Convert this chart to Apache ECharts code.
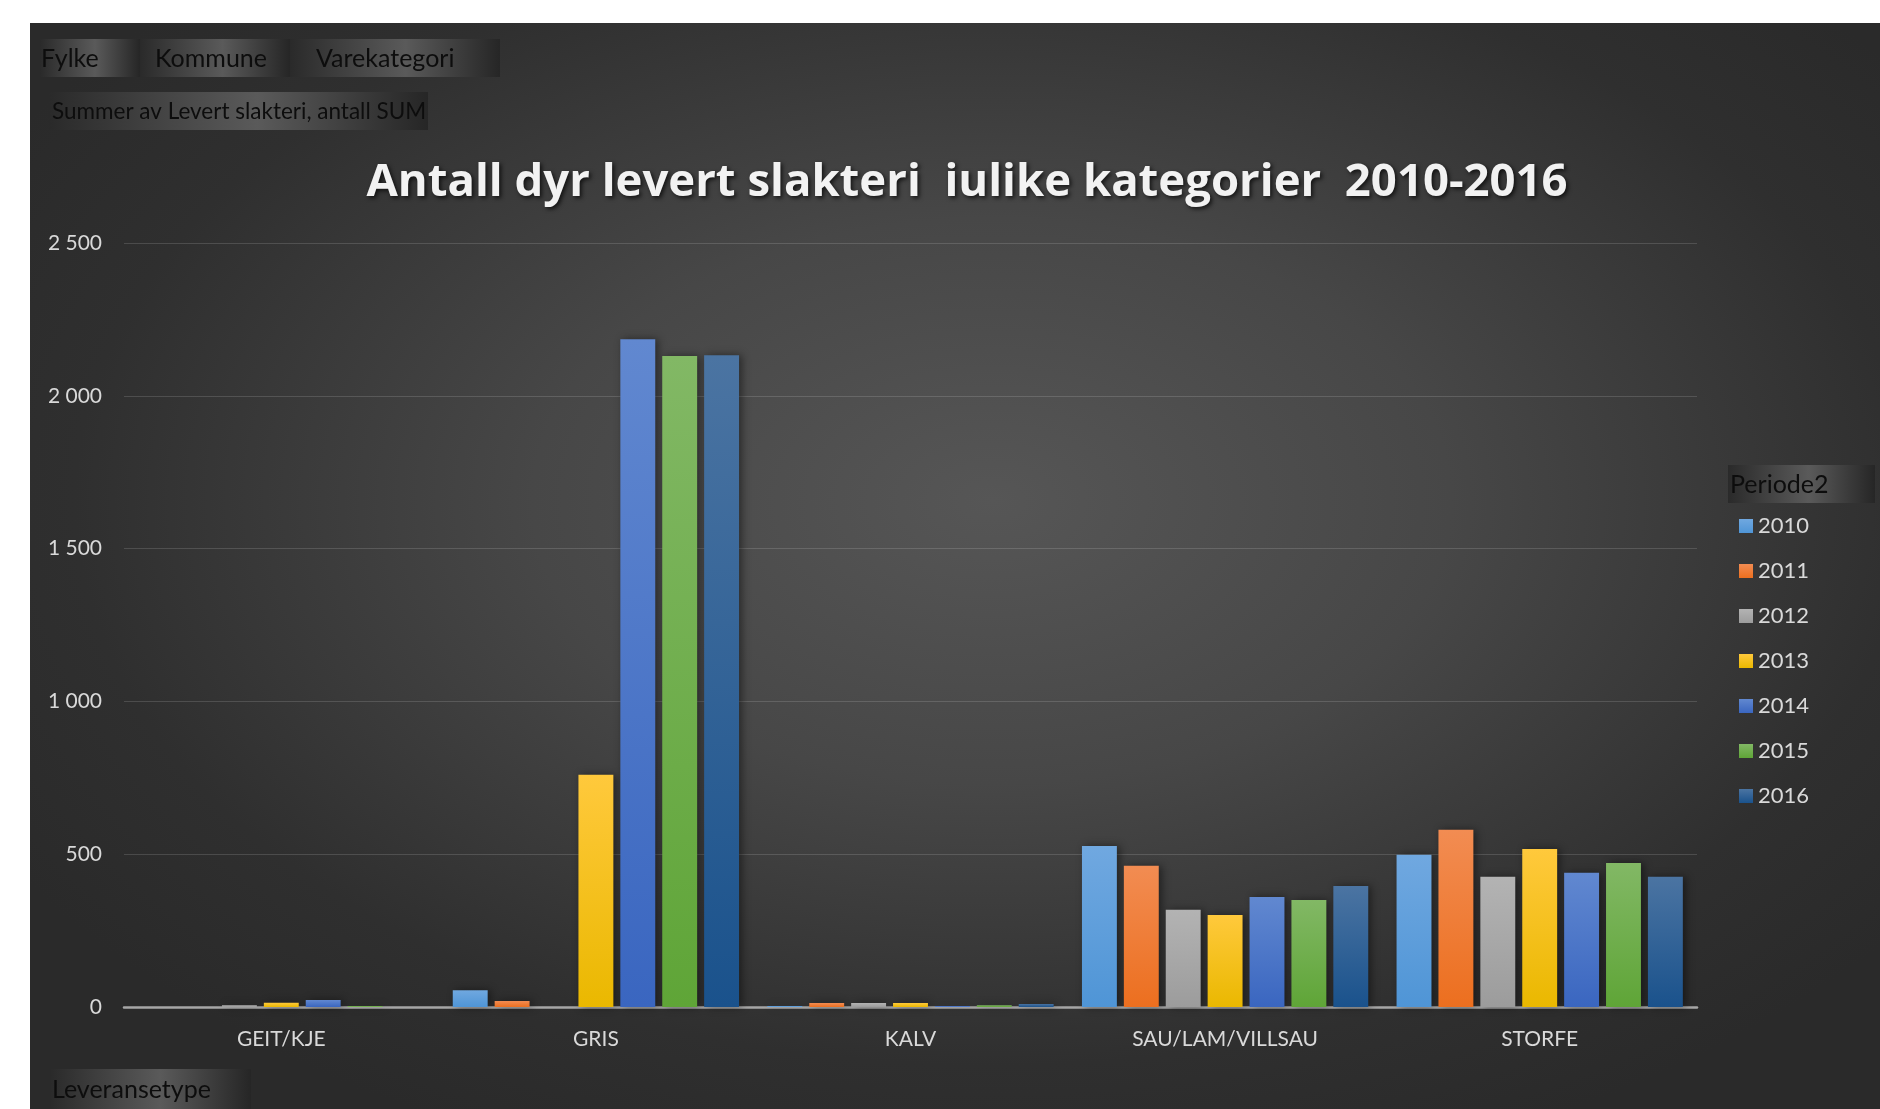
<!DOCTYPE html>
<html>
<head>
<meta charset="utf-8">
<title>Antall dyr levert slakteri</title>
<script src="https://cdn.jsdelivr.net/npm/echarts@6/dist/echarts.min.js"></script>
<style>
    html, body { margin: 0; padding: 0; background: #ffffff; }
    #panel {
        position: absolute; left: 30px; top: 23px; width: 1850px; height: 1086px;
        background: radial-gradient(ellipse 62% 65% at 52% 44%, #565656 0%, #474747 40%, #2f2f2f 80%, #2a2a2a 100%);
    }
    #chart { position: absolute; left: 0; top: 0; width: 1880px; height: 1109px; }
</style>
</head>
<body>
<div id="panel"></div>
<div id="chart"></div>
<script>
// kategorier og verdier lest av figuren
var categories = ['GEIT/KJE', 'GRIS', 'KALV', 'SAU/LAM/VILLSAU', 'STORFE'];
var years = ['2010', '2011', '2012', '2013', '2014', '2015', '2016'];
var v2010 = [0, 55, 3, 527, 498];
var v2011 = [0, 20, 13, 462, 580];
var v2012 = [6, 0, 13, 318, 426];
var v2013 = [14, 760, 13, 301, 517];
var v2014 = [23, 2185, 3, 360, 439];
var v2015 = [3, 2130, 6, 350, 471];
var v2016 = [0, 2133, 10, 396, 426];
var yTicks = [0, 500, 1000, 1500, 2000, 2500];

var Slakteri = {
    font: 'Lato, "Open Sans", sans-serif',
    values: [v2010, v2011, v2012, v2013, v2014, v2015, v2016],
    // topp / bunn farge pr. år
    colors: [
        ['#70a8e0', '#4f95d6'],
        ['#f28c52', '#ec6f1f'],
        ['#b3b3b3', '#9c9c9c'],
        ['#ffc93c', '#eab800'],
        ['#6188d0', '#3a66c0'],
        ['#82b865', '#5fa537'],
        ['#4b74a2', '#1a528c']
    ],

    grad: function (c) {
        return new echarts.graphic.LinearGradient(0, 0, 0, 1, [
            {offset: 0, color: c[0]}, {offset: 1, color: c[1]}
        ]);
    },

    button: function (x, y, w, h) {
        return {
            type: 'rect',
            shape: {x: x, y: y, width: w, height: h},
            style: {
                fill: new echarts.graphic.LinearGradient(0, 0, 1, 0, [
                    {offset: 0, color: '#2a2a2a'},
                    {offset: 0.55, color: '#5a5a5a'},
                    {offset: 1, color: '#262626'}
                ])
            },
            silent: true
        };
    },

    label: function (x, y, txt, size) {
        return {
            type: 'text', x: x, y: y, silent: true,
            style: {text: txt, fill: '#0d0d0d', font: size + 'px ' + Slakteri.font, verticalAlign: 'middle'}
        };
    },

    render: function () {
        var chart = echarts.init(document.getElementById('chart'), null, {renderer: 'canvas'});
        var series = [];
        for (var i = 0; i < years.length; i++) {
            series.push({
                name: years[i],
                type: 'bar',
                data: this.values[i],
                barGap: '20%',
                barCategoryGap: '9%',
                itemStyle: {
                    color: this.grad(this.colors[i]),
                    shadowColor: 'rgba(0,0,0,0.45)',
                    shadowBlur: 8,
                    shadowOffsetX: 3,
                    shadowOffsetY: 0
                }
            });
        }

        var option = {
            backgroundColor: 'transparent',
            animation: false,
            title: {
                text: 'Antall dyr levert slakteri  iulike kategorier  2010-2016',
                left: 962,
                top: 155,
                textAlign: 'center',
                textStyle: {
                    color: '#f2f2f2',
                    fontFamily: '"Open Sans", Lato, sans-serif',
                    fontWeight: 'bold',
                    fontSize: 45.5,
                    textShadowColor: 'rgba(0,0,0,0.7)',
                    textShadowBlur: 4,
                    textShadowOffsetX: 2,
                    textShadowOffsetY: 2
                }
            },
            legend: {
                orient: 'vertical',
                left: 1739,
                top: 515,
                padding: 0,
                icon: 'rect',
                itemWidth: 14,
                itemHeight: 14,
                itemGap: 23,
                textStyle: {color: '#d9d9d9', fontSize: 22, fontFamily: this.font},
                data: years
            },
            grid: {left: 124, right: 183, top: 243, bottom: 102},
            xAxis: {
                type: 'category',
                data: categories,
                axisTick: {show: false},
                axisLine: {lineStyle: {color: '#a6a6a6', width: 2.5}},
                axisLabel: {color: '#d9d9d9', fontSize: 21, fontFamily: this.font, margin: 22}
            },
            yAxis: {
                type: 'value',
                min: yTicks[0],
                max: yTicks[yTicks.length - 1],
                interval: yTicks[1] - yTicks[0],
                axisLine: {show: false},
                axisTick: {show: false},
                splitLine: {lineStyle: {color: 'rgba(255,255,255,0.14)', width: 1}},
                axisLabel: {
                    color: '#d9d9d9', fontSize: 21, fontFamily: this.font, margin: 22,
                    formatter: function (v) {
                        return String(v).replace(/\B(?=(\d{3})+(?!\d))/g, ' ');
                    }
                }
            },
            graphic: [
                this.button(40, 39, 100, 38),
                this.button(140, 39, 150, 38),
                this.button(290, 39, 210, 38),
                this.label(41, 59, 'Fylke', 25),
                this.label(155, 59, 'Kommune', 25),
                this.label(316, 59, 'Varekategori', 25),
                this.button(49, 92, 379, 38),
                this.label(52, 112, 'Summer av Levert slakteri, antall SUM', 22.5),
                this.button(50, 1069, 201, 40),
                this.label(52, 1090, 'Leveransetype', 25),
                this.button(1728, 465, 147, 38),
                this.label(1730, 485, 'Periode2', 25)
            ],
            series: series
        };
        chart.setOption(option);
    }
};

Slakteri.render();
</script>
</body>
</html>
